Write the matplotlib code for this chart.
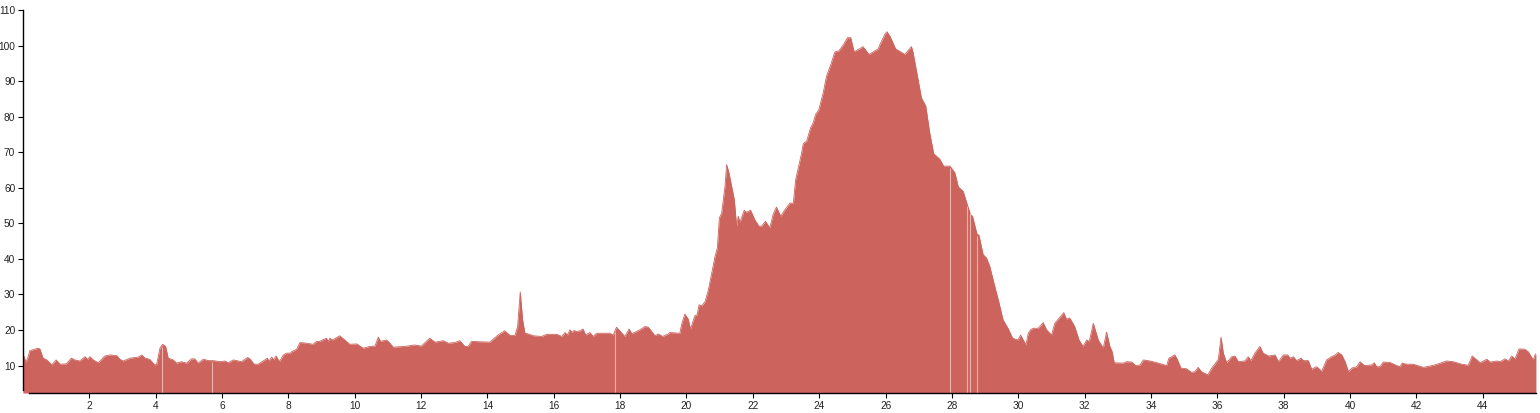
import matplotlib
matplotlib.use("Agg")
import matplotlib.pyplot as plt
import numpy as np

# ---- data (x in chart units, y values) ----
x_vals = [
    0.00, 0.09, 0.14, 0.21, 0.46, 0.51, 0.61, 0.72, 0.87, 1.00, 1.12, 1.31, 1.46, 1.56, 1.71, 1.87, 1.95,
    2.02, 2.12, 2.27, 2.47, 2.62, 2.83, 2.92, 3.02, 3.23, 3.48, 3.58, 3.68, 3.82, 3.97, 4.03, 4.13, 4.21,
    4.30, 4.38, 4.53, 4.63, 4.78, 4.93, 5.08, 5.18, 5.28, 5.44, 5.59, 5.74, 5.94, 6.09, 6.19, 6.34, 6.49,
    6.59, 6.77, 6.84, 6.97, 7.09, 7.29, 7.36, 7.42, 7.50, 7.55, 7.63, 7.73, 7.85, 7.95, 8.05, 8.10, 8.25,
    8.35, 8.55, 8.75, 8.85, 8.95, 9.02, 9.15, 9.20, 9.25, 9.33, 9.55, 9.70, 9.85, 10.06, 10.26, 10.46,
    10.61, 10.71, 10.78, 10.86, 10.96, 11.06, 11.16, 11.51, 11.81, 12.01, 12.26, 12.42, 12.67, 12.82, 13.02,
    13.17, 13.32, 13.42, 13.52, 14.07, 14.32, 14.52, 14.68, 14.83, 14.91, 14.99, 15.06, 15.13, 15.23,
    15.38, 15.63, 15.79, 16.09, 16.24, 16.34, 16.41, 16.49, 16.55, 16.61, 16.68, 16.80, 16.88, 16.96,
    17.09, 17.19, 17.29, 17.44, 17.69, 17.79, 17.89, 17.99, 18.14, 18.27, 18.35, 18.45, 18.60, 18.75,
    18.85, 18.95, 19.05, 19.15, 19.28, 19.45,
    19.50, 19.80, 19.85, 19.95, 20.05, 20.12, 20.25, 20.32, 20.38, 20.46, 20.56, 20.66, 20.76, 20.86,
    20.93, 20.99, 21.06, 21.16, 21.21, 21.28, 21.36, 21.44, 21.51, 21.56, 21.61, 21.74, 21.80, 21.93,
    22.06, 22.18, 22.26, 22.38, 22.51, 22.61, 22.71, 22.84, 22.97, 23.12, 23.22, 23.29, 23.37, 23.47,
    23.52, 23.62, 23.74, 23.82, 23.89, 23.99, 24.12, 24.22, 24.34, 24.47, 24.59, 24.72, 24.85, 24.95,
    25.05, 25.18, 25.32, 25.50, 25.78, 25.83, 25.98,
    26.04, 26.14, 26.30, 26.58, 26.78, 26.83, 26.95, 27.08, 27.21, 27.33, 27.45, 27.63, 27.75, 27.94,
    28.09, 28.19, 28.34, 28.46, 28.56, 28.62, 28.76, 28.81, 28.94, 29.04, 29.14, 29.29, 29.41, 29.54,
    29.69, 29.83, 29.99, 30.07, 30.23, 30.30, 30.37, 30.45, 30.60, 30.75, 30.85, 31.00, 31.10, 31.37,
    31.45, 31.55, 31.70, 31.83, 31.95, 32.06, 32.14, 32.26, 32.41,
    32.56, 32.66, 32.76, 32.83, 32.89, 33.16, 33.27, 33.42, 33.54, 33.67, 33.77, 33.97, 34.22, 34.47,
    34.54, 34.72, 34.80, 34.90, 35.07, 35.22, 35.32, 35.42, 35.52, 35.71, 35.83, 35.93, 36.03, 36.11,
    36.18, 36.28, 36.43, 36.53, 36.63, 36.83, 36.93, 37.01, 37.13, 37.28, 37.38, 37.54, 37.74, 37.84,
    37.99, 38.12, 38.19, 38.29, 38.39, 38.52, 38.59, 38.74, 38.84, 38.99, 39.09,
    39.14, 39.29, 39.44, 39.55, 39.64, 39.75, 39.85, 39.95, 40.05, 40.20, 40.30, 40.43, 40.65, 40.73,
    40.80, 40.90, 41.00, 41.20, 41.36, 41.50, 41.57, 41.70, 41.90, 42.21, 42.56, 42.91, 43.11, 43.36,
    43.56, 43.68, 43.82, 43.92, 44.12, 44.22, 44.42, 44.52, 44.67, 44.77, 44.87, 44.97, 45.09, 45.27,
    45.37, 45.52, 45.57, 45.60,
]
y_vals = [
    13.4, 11.0, 12.0, 14.2, 14.9, 14.7, 12.1, 11.6, 10.2, 11.6, 10.4, 10.5, 12.1, 11.6, 11.3, 12.5, 11.8,
    12.5, 11.6, 10.8, 12.7, 13.0, 12.8, 11.8, 11.3, 12.1, 12.4, 13.0, 12.1, 11.8, 10.2, 10.3, 14.9, 16.0,
    15.4, 12.1, 11.6, 10.7, 11.1, 10.7, 11.9, 11.9, 10.7, 11.8, 11.4, 11.4, 11.1, 11.3, 10.8, 11.6, 11.3,
    11.1, 12.3, 11.9, 10.4, 10.4, 11.6, 12.1, 11.3, 12.4, 11.6, 12.7, 11.1, 13.0, 13.5, 13.5, 13.9, 14.6,
    16.5, 16.3, 16.0, 16.8, 16.8, 17.2, 17.7, 16.8, 17.7, 17.2, 18.4, 17.2, 16.0, 16.1, 14.9, 15.4,
    15.5, 18.0, 16.8, 17.0, 17.2, 16.3, 15.2, 15.4, 15.8, 15.5, 17.7, 16.6, 17.0, 16.3, 16.5,
    17.0, 15.4, 15.4, 16.8, 16.6, 18.6, 19.8, 18.5, 18.5, 21.0, 30.7, 22.9, 19.1, 18.9,
    18.4, 18.2, 18.8, 18.8, 18.2, 19.3, 18.6, 20.1, 19.3, 19.9, 19.6, 19.8, 20.3, 18.6,
    19.3, 18.2, 19.1, 19.1, 19.1, 18.6, 20.8, 19.8, 18.2, 20.3, 19.0, 19.4, 20.1, 21.0,
    20.8, 19.6, 18.4, 18.9, 18.2, 18.9,
    19.3, 19.1, 21.5, 24.5, 23.1, 20.3, 24.0, 24.3, 27.1, 26.8, 28.0, 31.3, 36.0, 40.7,
    43.1, 51.5, 52.9, 60.4, 66.5, 64.2, 60.4, 56.7, 49.2, 52.0, 50.3, 53.7, 53.1, 53.7,
    51.0, 49.2, 49.2, 50.6, 48.7, 52.5, 54.6, 52.0, 53.9, 55.7, 55.7, 62.3, 65.6, 69.8,
    72.5, 73.1, 76.9, 78.3, 80.6, 82.0, 86.7, 91.4, 94.4, 98.2, 98.5, 100.1, 102.2, 102.2,
    98.3, 98.9, 99.7, 97.5, 99.1, 100.3, 103.2,
    103.9, 102.5, 99.1, 97.5, 99.7, 98.0, 91.9, 85.3, 83.0, 75.5, 69.6, 68.1, 66.1, 66.1,
    64.2, 60.3, 59.0, 55.3, 52.5, 52.0, 46.8, 46.8, 41.2, 40.3, 37.9, 32.3, 28.0, 22.9,
    20.5, 17.7, 17.2, 18.6, 15.8, 19.1, 20.1, 20.5, 20.5, 22.1, 20.1, 18.6, 21.9, 24.9,
    23.1, 23.4, 21.0, 17.2, 15.4, 17.2, 16.8, 21.9, 17.2,
    14.9, 19.4, 15.4, 13.9, 10.8, 10.7, 11.1, 11.0, 10.0, 10.2, 11.6, 11.3, 10.7, 10.0,
    12.1, 13.0, 11.6, 9.3, 9.1, 8.1, 8.3, 9.5, 8.3, 7.4, 9.3, 10.5, 11.8, 18.0,
    13.5, 10.8, 12.5, 12.7, 11.1, 11.3, 12.5, 11.4, 13.5, 15.4, 13.5, 12.7, 13.0, 11.1,
    13.0, 13.0, 12.1, 12.5, 11.4, 12.1, 11.4, 11.4, 9.0, 9.7, 8.9,
    8.3, 11.6, 12.5, 13.0, 13.7, 13.0, 11.1, 8.3, 9.3, 9.7, 11.1, 10.0, 10.2, 10.8,
    9.7, 9.7, 11.0, 10.9, 10.2, 9.7, 10.7, 10.4, 10.4, 9.5, 10.2, 11.3, 11.1, 10.4,
    10.1, 12.7, 11.6, 10.8, 11.8, 11.0, 11.3, 11.1, 11.9, 11.3, 12.7, 11.9, 14.7, 14.6,
    13.9, 11.6, 13.0, 13.3,
]
# positions of thin light seams visible in the area
seam_x = [4.19, 5.70, 17.85, 27.94, 28.46, 28.53, 28.76]

y_ticks = list(range(10, 111, 10))
x_ticks = list(range(2, 45, 2))

FILL = "#cc635c"

W, H, DPI = 1540, 413, 100
fig = plt.figure(figsize=(W / DPI, H / DPI), dpi=DPI)
fig.patch.set_facecolor("white")

left_px, right_px, top_px, bottom_px = 22.9, 1535.9, 10.0, 393.0
ax = fig.add_axes([left_px / W, (H - bottom_px) / H,
                   (right_px - left_px) / W, (bottom_px - top_px) / H])

x = np.array(x_vals)
y = np.array(y_vals)
y0 = 2.3
ax.fill_between(x, y0, y, color=FILL, linewidth=0)
ax.plot(x, y, color=FILL, linewidth=0.6)

seam_top = np.interp(seam_x, x, y)
ax.vlines(seam_x, y0, seam_top - 0.4, colors="#eab3ae", linewidth=0.8)

ax.set_xlim(0, 45.6)
ax.set_ylim(y0, 110)

for s in ["top", "right"]:
    ax.spines[s].set_visible(False)
ax.spines["left"].set_bounds(3.2, 110)
ax.spines["bottom"].set_bounds(0.18, 45.6)
for s in ["left", "bottom"]:
    ax.spines[s].set_linewidth(1.0)
    ax.spines[s].set_color("black")

ax.set_yticks(y_ticks)
ax.set_yticklabels([str(v) for v in y_ticks])
ax.set_xticks(x_ticks)
ax.set_xticklabels([str(v) for v in x_ticks])
ax.tick_params(axis="both", direction="out", length=3.5, width=0.8,
               color="black", labelsize=7.3, labelcolor="#222222", pad=2)
for lab in ax.get_xticklabels() + ax.get_yticklabels():
    lab.set_fontfamily("Liberation Sans")

fig.savefig("out.png", dpi=DPI, facecolor="white")
